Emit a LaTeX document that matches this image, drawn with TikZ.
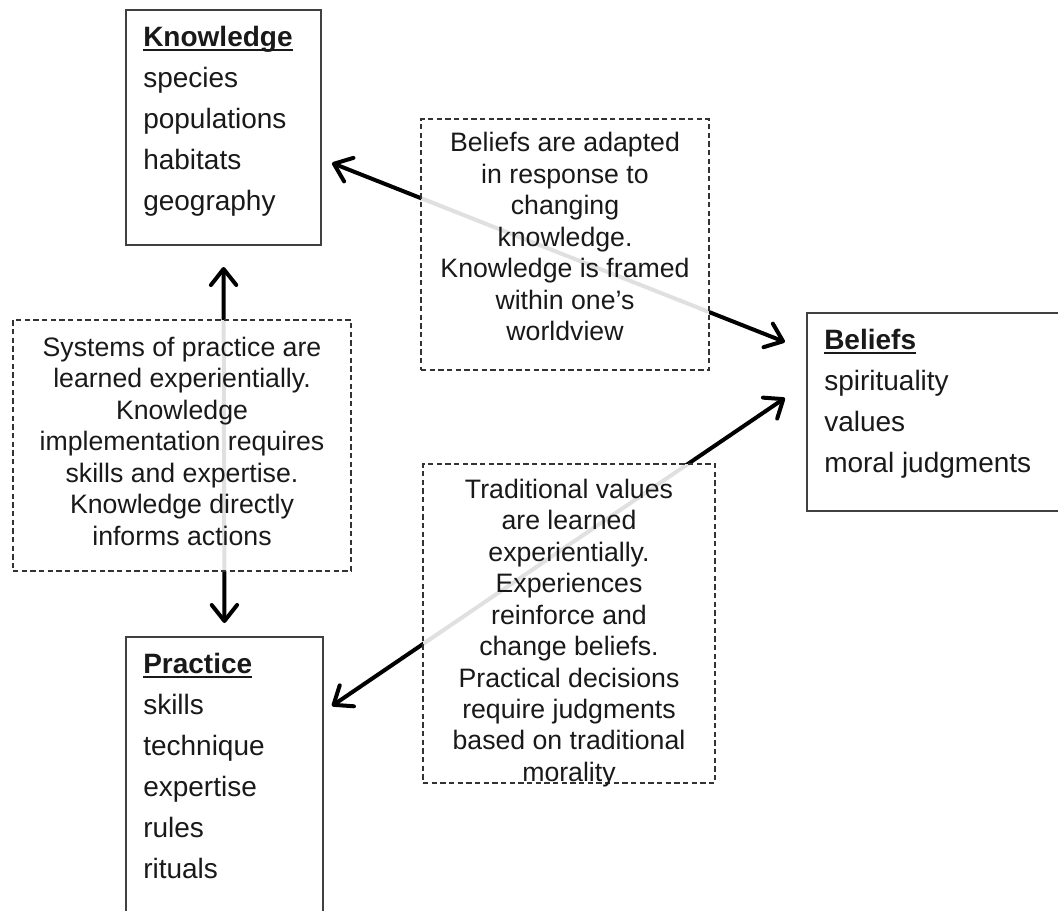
\documentclass[tikz,border=0pt]{standalone}
\usepackage{fontspec}
\setmainfont{Liberation Sans}
\usetikzlibrary{arrows.meta}
\newsavebox\headbox
\newcommand\headline[1]{\sbox\headbox{\bfseries #1}\rlap{\rule[-3.8pt]{\wd\headbox}{1.6pt}}\usebox\headbox}

\begin{document}
\begin{tikzpicture}[x=0.75pt,y=-0.75pt,
    conceptbox/.style={draw=black!75,line width=1.3pt,anchor=north west,inner sep=0pt,outer sep=0pt},
    notebox/.style={draw=black!80,line width=1pt,dash pattern=on 4pt off 2.5pt,fill=white,fill opacity=0.88,anchor=north west,inner sep=0pt,outer sep=0pt},
    notetext/.style={anchor=north,inner sep=0pt,align=center,text=black!90,font=\fontsize{20}{23.6}\selectfont},
    itemtext/.style={anchor=north west,inner sep=0pt,align=left,text=black!90,font=\fontsize{21}{30.75}\selectfont},
    link/.style={<->,>={Straight Barb[length=12pt,width=19pt,line width=3pt,round]},line width=3pt,black}]
        \useasboundingbox (0,0) rectangle (1058,911);
        \clip (0,0) rectangle (1058,911);

        %%% CONCEPT BOXES %%%
        \node[conceptbox,minimum width=146.25pt,minimum height=176.25pt] (know) at (126,10) {};
        \node[conceptbox,minimum width=147.75pt,minimum height=240pt] (prac) at (126,637) {};
        \node[conceptbox,minimum width=202.5pt,minimum height=148.5pt] (beli) at (807,313) {};

        \node[itemtext] (knowlist) at ([xshift=12.75pt,yshift=-11.7pt]know.north west) {\headline{Knowledge}\\species\\populations\\habitats\\geography};
        \node[itemtext] (praclist) at ([xshift=12.75pt,yshift=-11.7pt]prac.north west) {\headline{Practice}\\skills\\technique\\expertise\\rules\\rituals};
        \node[itemtext] (belilist) at ([xshift=12.75pt,yshift=-11.7pt]beli.north west) {\headline{Beliefs}\\spirituality\\values\\moral judgments};

        %%% LINKS %%%
        \draw[link,shorten <=16.5pt,shorten >=10.5pt] (know.south) -- (prac.north);
        \draw[link,shorten <=8.9pt,shorten >=17.8pt] ([yshift=-111.5pt]know.north east) -- ([yshift=-28.3pt]beli.north west);
        \draw[link,shorten <=8.1pt,shorten >=20pt] ([yshift=-56.25pt]prac.north east) -- ([yshift=-52.5pt]beli.north west);

        %%% NOTES %%%
        \node[notebox,minimum width=253.5pt,minimum height=188.25pt] (pracnote) at (13,320) {};
        \node[notebox,minimum width=216pt,minimum height=188.25pt] (belinote) at (421,119) {};
        \node[notebox,minimum width=219pt,minimum height=239.25pt] (valnote) at (423,464) {};

        \node[notetext] (practext) at ([yshift=-12.5pt]pracnote.north) {Systems of practice are\\learned experientially.\\Knowledge\\implementation requires\\skills and expertise.\\Knowledge directly\\informs actions};
        \node[notetext] (belitext) at ([yshift=-10pt]belinote.north) {Beliefs are adapted\\in response to\\changing\\knowledge.\\Knowledge is framed\\within one's\\worldview};
        \node[notetext] (valtext) at ([yshift=-11pt]valnote.north) {Traditional values\\are learned\\experientially.\\Experiences\\reinforce and\\change beliefs.\\Practical decisions\\require judgments\\based on traditional\\morality};
    \end{tikzpicture}
\end{document}
